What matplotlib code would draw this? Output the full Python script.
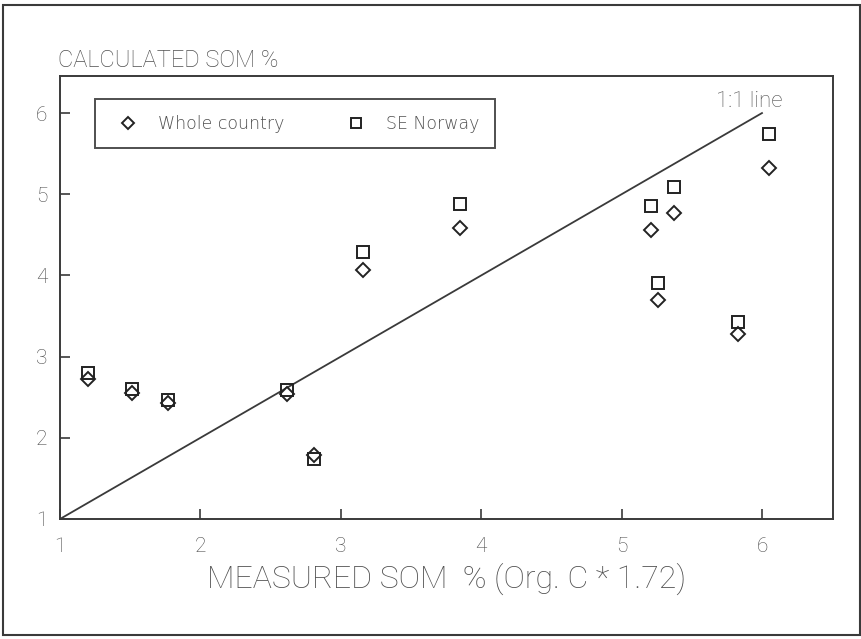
import matplotlib
matplotlib.use("Agg")
import matplotlib.pyplot as plt
from matplotlib.patches import Rectangle

# values
measured = [1.20, 1.51, 1.77, 2.62, 2.81, 3.16, 3.85, 5.21, 5.26, 5.37, 5.83, 6.05]
whole_country = [2.72, 2.55, 2.43, 2.54, 1.79, 4.07, 4.58, 4.56, 3.70, 4.77, 3.28, 5.32]
se_norway = [2.80, 2.60, 2.47, 2.59, 1.74, 4.29, 4.88, 4.85, 3.91, 5.09, 3.43, 5.74]
one_to_one = [1.0, 6.0]
xticks = [1, 2, 3, 4, 5, 6]
yticks = [1, 2, 3, 4, 5, 6]

ink = "#3a3a3a"
txt = "#505050"
plt.rcParams['font.family'] = ['Roboto', 'DejaVu Sans']
plt.rcParams['font.weight'] = 'light'

fig = plt.figure(figsize=(8.61, 6.39), dpi=100)
ax = fig.add_axes([0.0697, 0.1878, 0.8978, 0.6932])

ax.plot(one_to_one, one_to_one, color=ink, lw=1.3)
ax.plot(measured, whole_country, linestyle='none', marker='D', ms=7.2,
        mfc='white', mec='#222222', mew=1.4, label='Whole country')
ax.plot(measured, se_norway, linestyle='none', marker='s', ms=8.2,
        mfc='none', mec='#222222', mew=1.4, label='SE Norway')

ax.set_xlim(1, 6.506)
ax.set_ylim(1, 6.456)
ax.set_xticks(xticks)
ax.set_yticks(yticks)
ax.tick_params(direction='in', length=7, width=1.2, color=ink,
               labelcolor="#4a4a4a", labelsize=15)
ax.tick_params(axis='x', pad=13)
ax.tick_params(axis='y', pad=9)
for s in ax.spines.values():
    s.set_color(ink)
    s.set_linewidth(1.4)

ax.text(5.67, 6.14, '1:1 line', color=txt, fontsize=16, va='center', ha='left')

ax.set_xlabel('MEASURED SOM  % (Org. C * 1.72)', fontsize=23, color=txt,
              fontweight='light', labelpad=5)
fig.text(0.0674, 0.906, 'CALCULATED SOM %', fontsize=17, color=txt,
         va='center', ha='left')

leg = ax.legend(loc='lower left', bbox_to_anchor=(0.0453, 0.837, 0.517, 0.109),
                mode='expand', ncol=2, frameon=True, fancybox=False,
                prop={'family': 'DejaVu Sans', 'size': 12.5},
                handlelength=2.0, handletextpad=0.7, markerscale=0.9,
                columnspacing=3.0, borderpad=0.9, borderaxespad=0)
leg.get_frame().set_edgecolor('#222222')
leg.get_frame().set_linewidth(1.4)
for t in leg.get_texts():
    t.set_color(txt)

# outer frame around the whole figure
fig.patches.append(Rectangle((0.0035, 0.006), 0.9955, 0.986,
                             transform=fig.transFigure, fill=False,
                             edgecolor=ink, lw=1.5))

fig.savefig('out.png', dpi=100)
